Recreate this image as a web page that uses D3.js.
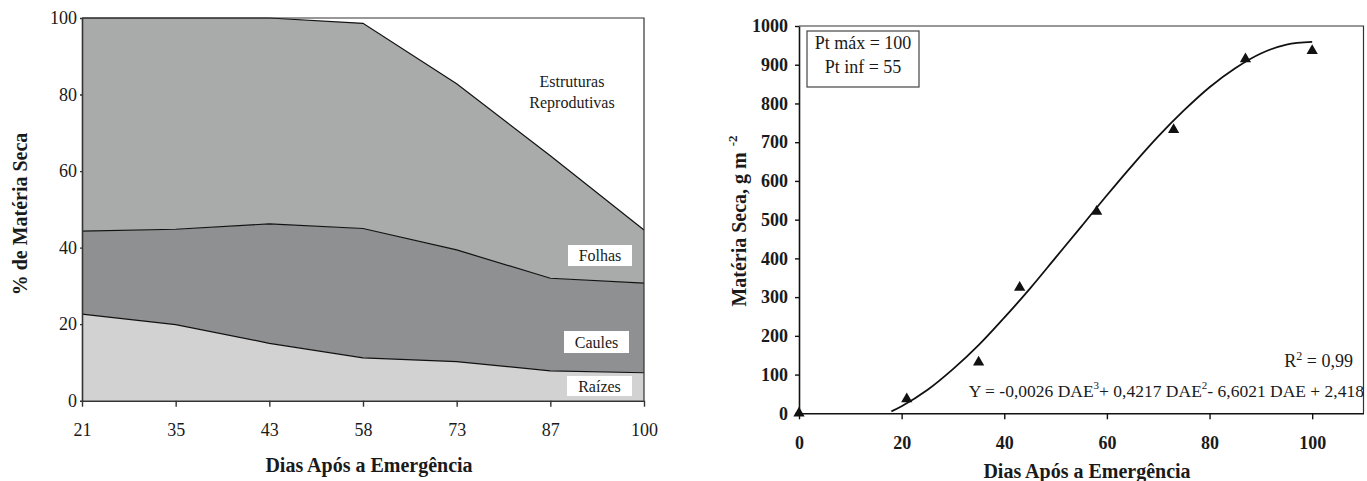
<!DOCTYPE html>
<html lang="pt">
<head>
  <meta charset="UTF-8">
  <title>Matéria Seca</title>
  <style>
    body { margin: 0; background: #fff; }
    svg text { font-family: "Liberation Serif", "Times New Roman", serif; fill: #1a1a1a; }
  </style>
  <script src="https://d3js.org/d3.v7.min.js"></script>
</head>
<body>
  <div id="chart"></div>
  <script>
    // left chart: cumulative share (%) of each organ
    const dias = ["21", "35", "43", "58", "73", "87", "100"];
    const raizes = [22.6, 19.9, 15.0, 11.2, 10.2, 7.8, 7.3];
    const caules = [44.3, 44.8, 46.2, 45.0, 39.4, 32.0, 30.7];
    const folhas = [100, 100, 100, 98.6, 82.8, 64.0, 44.6];
    const pctTicks = [0, 20, 40, 60, 80, 100];

    // right chart: observed dry matter and fitted curve
    const dae = [0, 21, 35, 43, 58, 73, 87, 100];
    const materiaSeca = [0, 37, 132, 325, 521, 732, 915, 936];
    const curvaDae = [18, 20, 25, 30, 35, 40, 45, 50, 55, 60, 65, 70, 75, 80, 85, 90, 95, 100];
    const curvaY = [5, 18, 60, 114, 176, 247, 322, 402, 482, 563, 641, 715, 782, 842, 891, 929, 952, 959];
    const daeTicks = [0, 20, 40, 60, 80, 100];
    const msTicks = d3.range(0, 1001, 100);

    const svg = d3.select("#chart").append("svg")
      .attr("width", 1367)
      .attr("height", 481);

    // ---------- left chart ----------
    const L = {left: 82, right: 644, top: 18, bottom: 400.7};
    const x1 = d3.scalePoint().domain(dias).range([L.left, L.right]);
    const y1 = d3.scaleLinear().domain([0, 100]).range([L.bottom, L.top]);

    const rows = dias.map((d, i) => ({d, r: raizes[i], c: caules[i], f: folhas[i]}));
    const band = (lo, hi) => d3.area().x(p => x1(p.d)).y0(p => y1(lo(p))).y1(p => y1(hi(p)));

    const gL = svg.append("g");
    gL.append("path").datum(rows).attr("fill", "#d2d2d2").attr("d", band(p => 0, p => p.r));
    gL.append("path").datum(rows).attr("fill", "#8f9092").attr("d", band(p => p.r, p => p.c));
    gL.append("path").datum(rows).attr("fill", "#a9abaa").attr("d", band(p => p.c, p => p.f));

    [p => p.r, p => p.c, p => p.f].forEach(acc => {
      gL.append("path").datum(rows)
        .attr("fill", "none").attr("stroke", "#111").attr("stroke-width", 1.2)
        .attr("d", d3.line().x(p => x1(p.d)).y(p => y1(acc(p))));
    });

    // frame top / right
    gL.append("path")
      .attr("d", `M${L.left},${L.top}H${L.right}V${L.bottom}`)
      .attr("fill", "none").attr("stroke", "#333").attr("stroke-width", 1.2);

    const axL = gL.append("g")
      .attr("transform", `translate(${L.left},0)`)
      .call(d3.axisLeft(y1).tickValues(pctTicks).tickSize(2).tickPadding(3).tickSizeOuter(0));
    const axB = gL.append("g")
      .attr("transform", `translate(0,${L.bottom})`)
      .call(d3.axisBottom(x1).tickSize(6).tickPadding(17).tickSizeOuter(0));
    [axL, axB].forEach(a => {
      a.attr("font-family", null);
      a.select(".domain").attr("stroke", "#333").attr("stroke-width", 1.6);
      a.selectAll(".tick line").attr("stroke", "#333").attr("stroke-width", 1.4);
      a.selectAll("text").attr("font-size", 18).attr("fill", "#1a1a1a");
    });

    gL.append("text").attr("x", 369).attr("y", 471.5)
      .attr("text-anchor", "middle").attr("font-size", 20).attr("font-weight", "bold")
      .text("Dias Após a Emergência");
    gL.append("text")
      .attr("transform", "translate(27,214) rotate(-90)")
      .attr("text-anchor", "middle").attr("font-size", 20).attr("font-weight", "bold")
      .text("% de Matéria Seca");

    const er = gL.append("text").attr("text-anchor", "middle").attr("font-size", 16);
    er.append("tspan").attr("x", 572).attr("y", 87).text("Estruturas");
    er.append("tspan").attr("x", 572).attr("y", 108).text("Reprodutivas");

    const tags = [
      {t: "Folhas", x: 568, y: 245, w: 64, h: 21},
      {t: "Caules", x: 564, y: 331, w: 65, h: 22},
      {t: "Raízes", x: 567, y: 376, w: 65, h: 20}
    ];
    tags.forEach(b => {
      gL.append("rect").attr("x", b.x).attr("y", b.y).attr("width", b.w).attr("height", b.h).attr("fill", "#fff");
      gL.append("text").attr("x", b.x + b.w / 2).attr("y", b.y + b.h / 2 + 5.5)
        .attr("text-anchor", "middle").attr("font-size", 16).text(b.t);
    });

    // ---------- right chart ----------
    const R = {left: 799, right: 1363.5, top: 26, bottom: 413.3};
    const x2 = d3.scaleLinear().domain([0, 110]).range([R.left, R.right]);
    const y2 = d3.scaleLinear().domain([0, 1000]).range([R.bottom, R.top]);
    const gR = svg.append("g");

    gR.append("path")
      .attr("d", `M${R.left},${R.top}H${R.right}V${R.bottom}`)
      .attr("fill", "none").attr("stroke", "#333").attr("stroke-width", 1.2);

    const axY = gR.append("g")
      .attr("transform", `translate(${R.left},0)`)
      .call(d3.axisLeft(y2).tickValues(msTicks).tickFormat(d3.format("d"))
        .tickSize(4).tickPadding(7).tickSizeOuter(0));
    const axX = gR.append("g")
      .attr("transform", `translate(0,${R.bottom})`)
      .call(d3.axisBottom(x2).tickValues(daeTicks).tickFormat(d3.format("d"))
        .tickSize(6).tickPadding(17).tickSizeOuter(0));
    [axY, axX].forEach(a => {
      a.attr("font-family", null);
      a.select(".domain").attr("stroke", "#111").attr("stroke-width", 1.6);
      a.selectAll(".tick line").attr("stroke", "#111").attr("stroke-width", 1.4);
      a.selectAll("text").attr("font-size", 18).attr("font-weight", "bold").attr("fill", "#1a1a1a");
    });

    gR.append("path")
      .datum(curvaDae.map((d, i) => [d, curvaY[i]]))
      .attr("fill", "none").attr("stroke", "#111").attr("stroke-width", 1.8)
      .attr("d", d3.line().x(p => x2(p[0])).y(p => y2(p[1])).curve(d3.curveCatmullRom));

    gR.selectAll(".tri")
      .data(dae.map((d, i) => [d, materiaSeca[i]]))
      .join("path")
      .attr("transform", p => `translate(${x2(p[0])},${y2(p[1])})`)
      .attr("d", d3.symbol(d3.symbolTriangle, 55))
      .attr("fill", "#111");

    gR.append("rect").attr("x", 807).attr("y", 31).attr("width", 112).attr("height", 56)
      .attr("fill", "#fff").attr("stroke", "#444").attr("stroke-width", 1.2);
    gR.append("text").attr("x", 863).attr("y", 49).attr("text-anchor", "middle").attr("font-size", 18).text("Pt máx = 100");
    gR.append("text").attr("x", 863).attr("y", 73).attr("text-anchor", "middle").attr("font-size", 18).text("Pt inf = 55");

    const r2 = gR.append("text").attr("x", 1353).attr("y", 367).attr("text-anchor", "end").attr("font-size", 18);
    r2.append("tspan").text("R");
    r2.append("tspan").attr("dy", -7).attr("font-size", 12).text("2");
    r2.append("tspan").attr("dy", 7).text(" = 0,99");

    const eq = gR.append("text").attr("x", 1364).attr("y", 397)
      .attr("text-anchor", "end").attr("font-size", 17.5);
    eq.append("tspan").text("Y = -0,0026 DAE");
    eq.append("tspan").attr("dy", -8).attr("font-size", 11).text("3");
    eq.append("tspan").attr("dy", 8).text("+ 0,4217 DAE");
    eq.append("tspan").attr("dy", -8).attr("font-size", 11).text("2");
    eq.append("tspan").attr("dy", 8).text("- 6,6021 DAE + 2,418");

    gR.append("text").attr("x", 1087).attr("y", 478)
      .attr("text-anchor", "middle").attr("font-size", 20).attr("font-weight", "bold")
      .text("Dias Após a Emergência");
    const yt = gR.append("text")
      .attr("transform", "translate(746,221) rotate(-90)")
      .attr("text-anchor", "middle").attr("font-size", 20).attr("font-weight", "bold");
    yt.append("tspan").text("Matéria Seca, g m");
    yt.append("tspan").attr("dx", 6).attr("dy", -9).attr("font-size", 13).text("-2");
  </script>
</body>
</html>
